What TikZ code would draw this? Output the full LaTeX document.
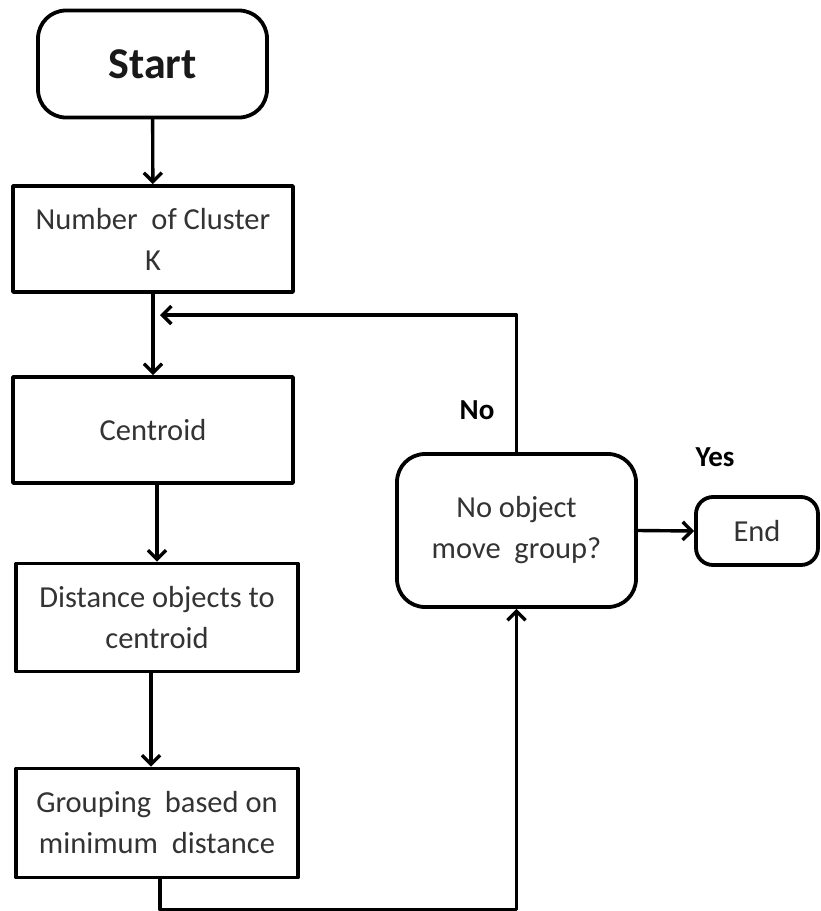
\documentclass[tikz,border=0pt]{standalone}
\usepackage{fontspec}
\setmainfont{Carlito}
\usetikzlibrary{arrows.meta}

\begin{document}
\begin{tikzpicture}[
  x=1pt,
  y=-1pt,
  line cap=round,
  line join=round,
  box/.style={draw,line width=3.8pt,inner sep=0pt,align=center,
    text=black!80,font=\fontsize{30.5}{41}\selectfont},
  rbox/.style={box,rounded corners=28pt},
  arr/.style={line width=3.4pt,-{Straight Barb[length=9pt,width=18pt,line width=3.4pt]}},
  lbl/.style={font=\fontsize{29}{34}\selectfont\bfseries}
]
  \useasboundingbox (0,0) rectangle (821,911);

  % Kolom kiri
  \node[rbox,minimum width=229pt,minimum height=107pt,
    font=\fontsize{44}{50}\selectfont\bfseries,text=black!90]
    (start) at (152.5,64) {Start};
  \node[box,minimum width=280pt,minimum height=106pt]
    (ncl) at (153,239) {Number\ \ of Cluster\\K};
  \node[box,minimum width=280pt,minimum height=106pt]
    (cen) at (153,430) {Centroid};
  \node[box,minimum width=282pt,minimum height=108pt]
    (dist) at (157,617.5) {Distance objects to\\centroid};
  \node[box,minimum width=282pt,minimum height=109pt]
    (grp) at (157,823) {Grouping\ \ based on\\minimum\ \ distance};

  % Keputusan
  \node[rbox,minimum width=239pt,minimum height=153pt]
    (dec) at (516.5,530.5) {No object\\move\ \ group?};
  \node[rbox,rounded corners=17pt,minimum width=122pt,minimum height=68pt]
    (endn) at (757,531) {End};

  \coordinate (back) at (160,315);

  % Panah
  \draw[arr] (start) -- (ncl);
  \draw[arr] (ncl) -- (cen);
  \draw[arr] (dist.north |- cen.south) -- (dist.north);
  \draw[arr] ([xshift=-6pt]dist.south) -- ([xshift=-6pt]grp.north);
  \draw[arr] ([xshift=3pt]grp.south) -- ++(0,30) -| (dec.south);
  \draw[arr] (dec.north) |- (back);
  \draw[arr] (dec.east) -- (endn.west);

  % Label
  \node[lbl] (no) at (477,410) {No};
  \node[lbl] (yes) at (715,457) {Yes};
\end{tikzpicture}
\end{document}
